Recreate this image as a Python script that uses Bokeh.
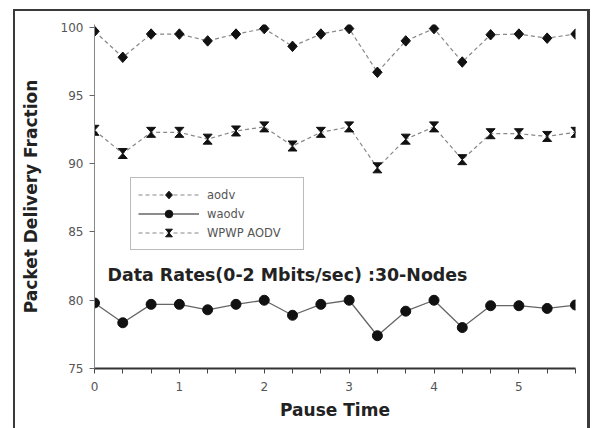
from bokeh.plotting import figure
from bokeh.models import (Range1d, FixedTicker, Legend, LegendItem, Label,
                          CustomJS, ColumnDataSource, CustomJSTickFormatter,
                          InlineStyleSheet)
from bokeh.models.glyphs import Scatter
from bokeh.embed import file_html
from bokeh.resources import INLINE

# ---- data ----
pause = [0, 0.333, 0.667, 1.0, 1.333, 1.667, 2.0, 2.333, 2.667,
         3.0, 3.333, 3.667, 4.0, 4.333, 4.667, 5.0, 5.333, 5.667]
aodv = [99.7, 97.8, 99.5, 99.5, 99.0, 99.5, 99.9, 98.6, 99.5,
        99.9, 96.7, 99.0, 99.9, 97.45, 99.45, 99.5, 99.2, 99.5]
waodv = [79.8, 78.35, 79.7, 79.7, 79.3, 79.7, 80.0, 78.9, 79.7,
         80.0, 77.4, 79.2, 80.0, 78.0, 79.6, 79.6, 79.4, 79.65]
wpwp = [92.45, 90.75, 92.3, 92.3, 91.8, 92.4, 92.7, 91.3, 92.3,
        92.7, 89.7, 91.8, 92.7, 90.3, 92.2, 92.2, 92.0, 92.3]
series_names = ["aodv", "waodv", "WPWP AODV"]
y_ticks = [75, 80, 85, 90, 95, 100]
title_text = "Data Rates(0-2 Mbits/sec) :30-Nodes"
x_label = "Pause Time"
y_label = "Packet Delivery Fraction"

src = ColumnDataSource(dict(x=pause, aodv=aodv, waodv=waodv, wpwp=wpwp))

frame_css = InlineStyleSheet(css="""
:host { position: relative; }
:host::after {
  content: "";
  position: absolute;
  left: 13px; top: 9px; width: 577px; height: 419px;
  box-sizing: border-box;
  border-style: solid;
  border-color: #3a3a3a;
  border-width: 2px 3px 0 2px;
  pointer-events: none;
}
""")

p = figure(width=592, height=428, output_backend="svg", toolbar_location=None,
           x_range=Range1d(0, 5.667), y_range=Range1d(75, 100.2),
           min_border_left=94, min_border_right=17, min_border_top=24,
           min_border_bottom=60, stylesheets=[frame_css])
p.outline_line_color = None
p.grid.visible = False
p.background_fill_color = "white"
p.border_fill_color = "white"

# axes
xa = p.xaxis[0]
xa.ticker = FixedTicker(ticks=pause, minor_ticks=[])
xa.formatter = CustomJSTickFormatter(code="""
  return Math.abs(tick - Math.round(tick)) < 0.01 ? Math.round(tick).toString() : "";
""")
xa.axis_line_color = "#333"
xa.axis_line_width = 2
xa.major_tick_in = 0
xa.major_tick_out = 5
xa.minor_tick_in = 0
xa.minor_tick_out = 0
xa.major_tick_line_color = "#444"
xa.major_label_text_font = "DejaVu Sans"
xa.major_label_text_font_size = "12px"
xa.major_label_text_color = "#555"
xa.major_label_standoff = 8
xa.axis_label = x_label
xa.axis_label_text_font = "DejaVu Sans"
xa.axis_label_text_font_style = "bold"
xa.axis_label_text_font_size = "17px"
xa.axis_label_text_color = "#222"
xa.axis_label_standoff = 6

ya = p.yaxis[0]
ya.ticker = FixedTicker(ticks=y_ticks, minor_ticks=[])
ya.axis_line_color = "#888"
ya.axis_line_width = 1
ya.major_tick_in = 0
ya.major_tick_out = 5
ya.major_tick_line_color = "#666"
ya.minor_tick_out = 0
ya.major_label_text_font = "DejaVu Sans"
ya.major_label_text_font_size = "12px"
ya.major_label_text_color = "#555"
ya.major_label_standoff = 6
ya.axis_label = y_label
ya.axis_label_text_font = "DejaVu Sans"
ya.axis_label_text_font_style = "bold"
ya.axis_label_text_font_size = "17px"
ya.axis_label_text_color = "#222"
ya.axis_label_standoff = 17

# lines
l1 = p.line("x", "aodv", source=src, line_color="#888", line_width=1.2, line_dash="4 3")
l2 = p.line("x", "waodv", source=src, line_color="#666", line_width=1.3)
l3 = p.line("x", "wpwp", source=src, line_color="#888", line_width=1.2, line_dash="4 3")

has_defs = "defs" in Scatter.properties()

if has_defs:
    diamond = CustomJS(code="""
export default (args, obj, {ctx, i, r, visuals}) => {
  const w = 0.9 * r
  ctx.beginPath()
  ctx.moveTo(0, -r)
  ctx.lineTo(w, 0)
  ctx.lineTo(0, r)
  ctx.lineTo(-w, 0)
  ctx.closePath()
  visuals.fill.apply(ctx, i)
  visuals.line.apply(ctx, i)
}
""")
    m1 = p.scatter("x", "aodv", source=src, marker="@diamond",
                   defs={"@diamond": diamond}, size=10.5,
                   fill_color="#111", line_color="#111")
else:
    m1 = p.scatter("x", "aodv", source=src, marker="diamond", size=11,
                   fill_color="#111", line_color="#111")

m2 = p.scatter("x", "waodv", source=src, marker="circle", size=10,
               fill_color="#111", line_color="#111")

if has_defs:
    hourglass = CustomJS(code="""
export default (args, obj, {ctx, i, r, visuals}) => {
  const w = 0.9 * r
  ctx.beginPath()
  ctx.moveTo(-w, -r)
  ctx.lineTo(w, -r)
  ctx.lineTo(-w, r)
  ctx.lineTo(w, r)
  ctx.closePath()
  visuals.fill.apply(ctx, i)
  visuals.line.apply(ctx, i)
}
""")
    m3 = p.scatter("x", "wpwp", source=src, marker="@hourglass",
                   defs={"@hourglass": hourglass}, size=10,
                   fill_color="#111", line_color="#111", line_width=1)
else:
    m3 = p.scatter("x", "wpwp", source=src, marker="x", size=9,
                   line_color="#111", line_width=2.5)

legend = Legend(items=[
    LegendItem(label=series_names[0], renderers=[l1, m1]),
    LegendItem(label=series_names[1], renderers=[l2, m2]),
    LegendItem(label=series_names[2], renderers=[l3, m3]),
], location=(36, 118))
legend.border_line_color = "#777"
legend.border_line_width = 1
legend.background_fill_color = "white"
legend.padding = 7
legend.spacing = 0
legend.margin = 0
legend.glyph_width = 61
legend.glyph_height = 19
legend.label_height = 19
legend.label_standoff = 8
legend.label_width = 89
legend.label_text_font = "DejaVu Sans"
legend.label_text_font_size = "11.5px"
legend.label_text_color = "#555"
p.add_layout(legend)

p.add_layout(Label(x=0.153, y=81.85, text=title_text, text_font="DejaVu Sans",
                   text_font_style="bold", text_font_size="17.4px",
                   text_color="#222", text_baseline="middle"))

open("out.html", "w").write(file_html(p, INLINE))
